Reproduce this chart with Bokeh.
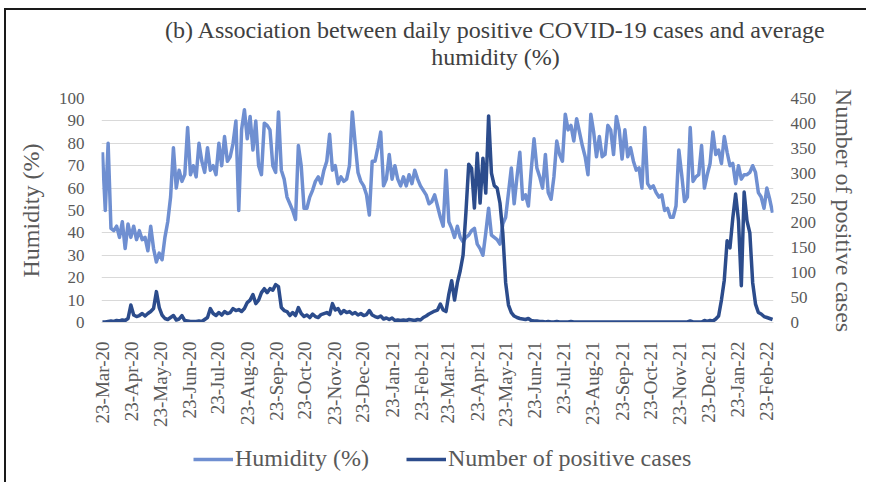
import math
from datetime import datetime
import pandas as pd
from bokeh.plotting import figure
from bokeh.layouts import column
from bokeh.models import (Range1d, LinearAxis, FixedTicker, DatetimeTickFormatter,
                          Legend, LegendItem, Label, ColumnDataSource)
from bokeh.embed import file_html
from bokeh.resources import INLINE

# ---------------- data (one value every 3 days) ----------------
START = "2020-03-23"
STEP = "3D"

humidity = [
    76, 50, 80, 42, 41, 43, 38, 45, 33, 44,
    38, 43, 37, 41, 37, 38, 32, 43, 33, 27,
    31, 28, 38, 45, 56, 78, 60, 68, 63, 66,
    87, 66, 70, 65, 80, 72, 67, 78, 68, 70,
    66, 80, 70, 83, 72, 74, 80, 90, 50, 86,
    95, 82, 92, 77, 90, 70, 66, 89, 88, 86,
    70, 67, 94, 68, 64, 56, 53, 50, 46, 79,
    70, 51, 51, 56, 59, 63, 65, 62, 68, 72,
    84, 68, 70, 62, 65, 63, 64, 70, 94, 80,
    67, 63, 61, 57, 48, 72, 72, 78, 85, 61,
    64, 75, 64, 70, 64, 61, 65, 61, 66, 62,
    68, 64, 61, 59, 57, 53, 54, 57, 52, 47,
    43, 68, 45, 42, 38, 43, 38, 36, 38, 39,
    41, 42, 35, 33, 30, 40, 51, 39, 38, 37,
    35, 44, 47, 58, 69, 53, 65, 76, 55, 57,
    52, 68, 82, 69, 65, 60, 75, 58, 55, 65,
    81, 75, 72, 93, 86, 88, 81, 91, 85, 79,
    74, 66, 93, 85, 74, 83, 74, 75, 88, 86,
    75, 92, 86, 73, 86, 74, 78, 72, 68, 69,
    60, 87, 62, 60, 61, 58, 56, 57, 50, 51,
    47, 47, 52, 77, 66, 54, 56, 87, 63, 65,
    66, 79, 60, 66, 71, 85, 75, 77, 71, 83,
    76, 70, 71, 62, 70, 64, 66, 66, 67, 70,
    67, 58, 56, 51, 60, 55, 49,
]

cases = [
    1, 1, 2, 3, 2, 4, 3, 5, 4, 8,
    35, 15, 12, 14, 18, 13, 18, 22, 28, 62,
    30, 15, 8, 6, 10, 14, 5, 7, 14, 4,
    3, 2, 2, 2, 3, 2, 6, 10, 28, 18,
    14, 20, 15, 22, 18, 20, 28, 24, 26, 22,
    28, 40, 45, 56, 38, 45, 60, 68, 60, 68,
    65, 76, 72, 30, 24, 22, 14, 20, 14, 30,
    18, 12, 15, 10, 17, 12, 10, 16, 18, 20,
    16, 38, 25, 28, 18, 24, 20, 22, 17, 20,
    15, 18, 14, 16, 24, 15, 12, 10, 13, 7,
    9, 6, 9, 4, 5, 4, 5, 4, 6, 5,
    4, 6, 5, 10, 13, 17, 20, 23, 25, 37,
    25, 22, 57, 84, 45, 80, 104, 135, 220, 318,
    310, 230, 340, 240, 330, 260, 415, 300, 275, 270,
    240, 180, 80, 35, 20, 13, 10, 8, 7, 6,
    8, 4, 3, 3, 2, 2, 1, 2, 1, 1,
    2, 1, 1, 1, 1, 2, 1, 1, 1, 1,
    1, 1, 1, 1, 1, 1, 1, 1, 1, 1,
    1, 1, 1, 1, 1, 1, 1, 1, 1, 1,
    1, 1, 1, 1, 1, 1, 1, 1, 1, 1,
    1, 1, 1, 1, 1, 1, 1, 3, 1, 1,
    1, 1, 4, 2, 4, 3, 7, 13, 45, 85,
    164, 150, 210, 258, 205, 74, 262, 204, 180, 80,
    37, 20, 17, 12, 10, 8, 6,
]

x_tick_labels = [
    "23-Mar-20", "23-Apr-20", "23-May-20", "23-Jun-20", "23-Jul-20", "23-Aug-20",
    "23-Sep-20", "23-Oct-20", "23-Nov-20", "23-Dec-20", "23-Jan-21", "23-Feb-21",
    "23-Mar-21", "23-Apr-21", "23-May-21", "23-Jun-21", "23-Jul-21", "23-Aug-21",
    "23-Sep-21", "23-Oct-21", "23-Nov-21", "23-Dec-21", "23-Jan-22", "23-Feb-22",
]
humidity_ticks = [0, 10, 20, 30, 40, 50, 60, 70, 80, 90, 100]
cases_ticks = [0, 50, 100, 150, 200, 250, 300, 350, 400, 450]

title_line1 = "(b) Association between daily positive COVID-19 cases and average"
title_line2 = "humidity (%)"
left_title = "Humidity (%)"
right_title = "Number of positive cases"
series_names = ["Humidity (%)", "Number of positive cases"]

# ---------------- styling ----------------
FONT = "Liberation Serif"
TXT = "#595959"
TITLE_TXT = "#404040"
H_COLOR = "#6F8FD1"
C_COLOR = "#2C4C8C"
GRID = "#D9D9D9"
W = 860
NAN = float("nan")


def bare(fig):
    fig.xaxis.visible = False
    fig.yaxis.visible = False
    fig.xgrid.visible = False
    fig.ygrid.visible = False
    fig.outline_line_color = None
    fig.min_border = 0
    fig.background_fill_color = "white"
    fig.border_fill_color = "white"


# ---- title strip ----
tf = figure(width=W, height=76, x_range=Range1d(0, W), y_range=Range1d(0, 76),
            output_backend="svg", toolbar_location=None)
bare(tf)
for txt, yy in [(title_line1, 57), (title_line2, 30)]:
    tf.add_layout(Label(x=489, y=yy, text=txt, text_align="center", text_baseline="alphabetic",
                        text_font=FONT, text_font_size="24px", text_color=TITLE_TXT))

# ---- main chart ----
h_src = ColumnDataSource(dict(date=pd.date_range(START, periods=len(humidity), freq=STEP), v=humidity))
c_src = ColumnDataSource(dict(date=pd.date_range(START, periods=len(cases), freq=STEP), v=cases))
tick_ms = [pd.to_datetime(t, format="%d-%b-%y").timestamp() * 1000 for t in x_tick_labels]

p = figure(width=W, height=346, x_axis_type="datetime",
           x_range=Range1d(datetime(2020, 3, 22), datetime(2022, 3, 2)),
           y_range=Range1d(humidity_ticks[0], humidity_ticks[-1]),
           output_backend="svg", toolbar_location=None,
           min_border_left=95, min_border_right=93, min_border_top=12, min_border_bottom=110)
p.outline_line_color = None
p.background_fill_color = "white"
p.border_fill_color = "white"
p.xgrid.grid_line_color = None
p.ygrid.grid_line_color = GRID
p.ygrid.grid_line_width = 1

ly = p.yaxis[0]
ly.ticker = FixedTicker(ticks=humidity_ticks)
ly.axis_label = left_title
p.extra_y_ranges = {"cases": Range1d(cases_ticks[0], cases_ticks[-1])}
ry = LinearAxis(y_range_name="cases", ticker=FixedTicker(ticks=cases_ticks), axis_label=right_title)
p.add_layout(ry, "right")
for ax, stand in [(ly, 12), (ry, 12)]:
    ax.axis_line_color = None
    ax.major_tick_line_color = None
    ax.minor_tick_line_color = None
    ax.major_tick_out = 0
    ax.major_label_standoff = 17
    ax.major_label_text_font = FONT
    ax.major_label_text_font_size = "17px"
    ax.major_label_text_color = TXT
    ax.axis_label_text_font = FONT
    ax.axis_label_text_font_size = "24px"
    ax.axis_label_text_font_style = "normal"
    ax.axis_label_text_color = TXT
    ax.axis_label_standoff = stand

xa = p.xaxis[0]
xa.ticker = FixedTicker(ticks=tick_ms)
fmt = "%d-%b-%y"
xa.formatter = DatetimeTickFormatter(microseconds=fmt, milliseconds=fmt, seconds=fmt, minsec=fmt,
                                     minutes=fmt, hourmin=fmt, hours=fmt, days=fmt, months=fmt, years=fmt)
xa.major_label_orientation = math.pi / 2
xa.axis_line_color = GRID
xa.major_tick_line_color = None
xa.minor_tick_line_color = None
xa.major_tick_out = 0
xa.major_label_standoff = 19
xa.major_label_text_font = FONT
xa.major_label_text_font_size = "19px"
xa.major_label_text_color = TXT

p.line("date", "v", source=h_src, line_color=H_COLOR, line_width=3.5, line_join="round")
p.line("date", "v", source=c_src, y_range_name="cases", line_color=C_COLOR, line_width=3.5,
       line_join="round")

# ---- legend strip (legend keys only; the dummy renderers hold no visible data) ----
lf = figure(width=W, height=50, x_range=Range1d(0, 1), y_range=Range1d(0, 1),
            output_backend="svg", toolbar_location=None)
bare(lf)
lh = lf.line(x=[NAN], y=[NAN], line_color=H_COLOR, line_width=3.5)
lc = lf.line(x=[NAN], y=[NAN], line_color=C_COLOR, line_width=3.5)
legend = Legend(items=[LegendItem(label=series_names[0], renderers=[lh]),
                       LegendItem(label=series_names[1], renderers=[lc])],
                orientation="horizontal", location=(187, 10), padding=0, margin=0,
                spacing=37, label_standoff=2, glyph_width=40, glyph_height=26, label_height=26,
                border_line_color=None, background_fill_alpha=0,
                label_text_font=FONT, label_text_font_size="24px", label_text_color=TXT)
lf.add_layout(legend)

for f in (tf, p, lf):
    try:
        f.frame_align = False
    except Exception:
        pass

layout = column(tf, p, lf, spacing=0,
                styles={"margin-left": "4px", "margin-top": "8px",
                        "border-left": "2px solid #1a1a1a", "border-top": "2px solid #1a1a1a"})

open("out.html", "w").write(file_html(layout, INLINE))
